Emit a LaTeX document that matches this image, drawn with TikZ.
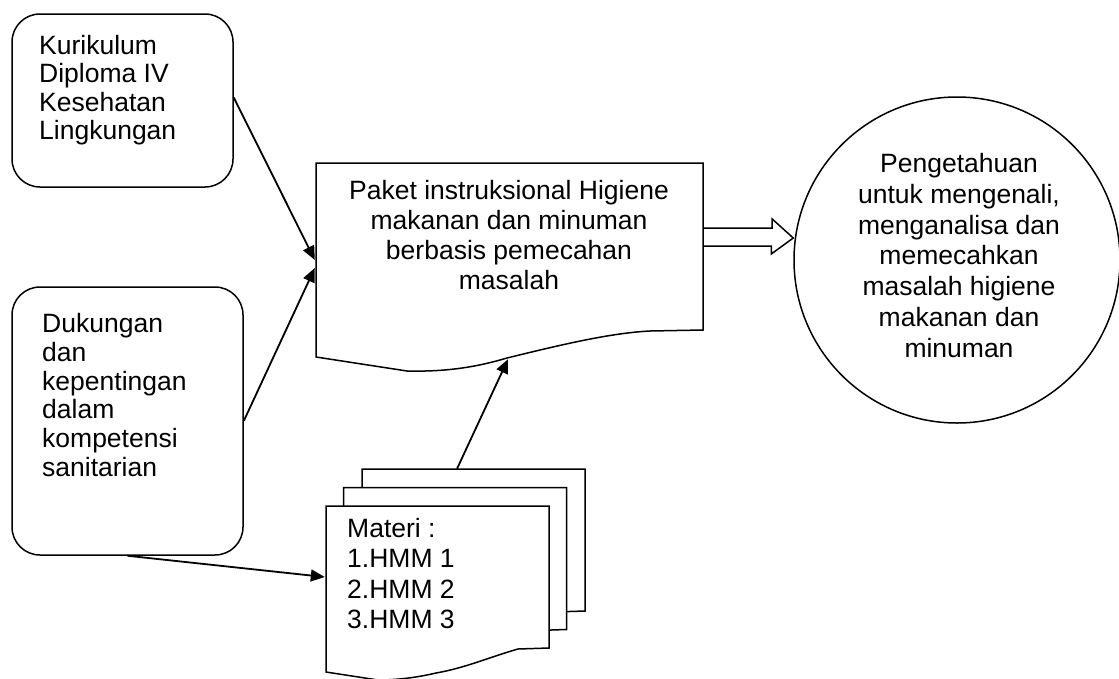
\documentclass[tikz,border=0pt]{standalone}
\usepackage{fontspec}
\setmainfont{Liberation Sans}
\usetikzlibrary{arrows.meta,calc}
\begin{document}
\begin{tikzpicture}[x=1pt,y=-1pt,
  outline/.style={draw=black,line width=1.5pt},
  rbox/.style={outline,rounded corners=28pt,inner sep=0pt},
  txt/.style={inner sep=0pt,font=\fontsize{26.5}{#1}\selectfont},
  txt/.default=30,
  arr/.style={draw=black,line width=1.8pt,-{Triangle[length=14pt,width=12pt]}},
  docshape/.style={outline,fill=white,line join=miter},
  frame/.style={inner sep=0pt,draw=none}]
\useasboundingbox (0,0) rectangle (1119,678);

% left rounded boxes
\node[rbox,minimum width=221pt,minimum height=173pt] (kur) at (122.5,100.5) {};
\node[txt=28.5,anchor=north west,align=left] (kurtxt) at (39,35)
  {Kurikulum\\Diploma IV\\Kesehatan\\Lingkungan};
\node[rbox,minimum width=231pt,minimum height=268pt] (duk) at (127.5,421) {};
\node[txt=28.8,anchor=north west,align=left] (duktxt) at (42,313)
  {Dukungan\\dan\\kepentingan\\dalam\\kompetensi\\sanitarian};

% main document shape
\draw[docshape] (316,163) -- (703,163) -- (703,330) -- (650,331)
  .. controls (610,333) and (560,345) .. (507,358)
  .. controls (480,366) and (450,372) .. (407,371)
  -- (316,357) -- cycle;
\node[frame,minimum width=387pt,minimum height=194pt] (paket) at (509.5,260) {};
\node[txt=30,anchor=north,align=center] (pakettxt) at (509,180)
  {Paket instruksional Higiene\\makanan dan minuman\\berbasis pemecahan\\masalah};

% stacked material documents
\foreach \dx/\dy in {36/-37, 17.5/-18.5, 0/0} {
  \begin{scope}[shift={(\dx,\dy)}]
    \draw[docshape] (326,506) -- (549,506) -- (549,648) -- (518,649)
      .. controls (490,657) and (465,668) .. (436,673)
      .. controls (415,678) and (395,680) .. (378,680)
      -- (326,672) -- cycle;
  \end{scope}
}
\node[frame,minimum width=223pt,minimum height=166pt] (matfront) at (437.5,589) {};
\node[frame,minimum width=223pt,minimum height=166pt] (matback) at (473.5,552) {};
\node[txt=30.3,anchor=north west,align=left] (materi) at (347,518)
  {Materi :\\1.HMM 1\\2.HMM 2\\3.HMM 3};

% circle
\node[outline,circle,minimum size=326pt,inner sep=0pt] (circ) at (957,260) {};
\node[txt=30.8,anchor=north,align=center] (circtxt) at (959,153)
  {Pengetahuan\\untuk mengenali,\\menganalisa dan\\memecahkan\\masalah higiene\\makanan dan\\minuman};

% connectors
\draw[arr] ($(kur.east)+(0,-3)$) -- ($(paket.west)+(-1,0)$);
\draw[arr] (duk.east) -- ($(paket.west)+(-1,8)$);
\draw[arr] (duk.south) -- ($(matfront.west)+(-1,-12)$);
\draw[arr] ($(matback.north)+(-16.5,0)$) -- ($(paket.south)+(-1.5,2)$);

% block arrow to circle
\draw[outline,line join=miter] ($(paket.east)+(0,-32)$) -- ++(69,0) -- ++(0,-9)
  -- ($(circ.west)+(0,-22)$) -- ++(-22,16) -- ++(0,-8) -- ($(paket.east)+(0,-14)$);
\end{tikzpicture}
\end{document}
